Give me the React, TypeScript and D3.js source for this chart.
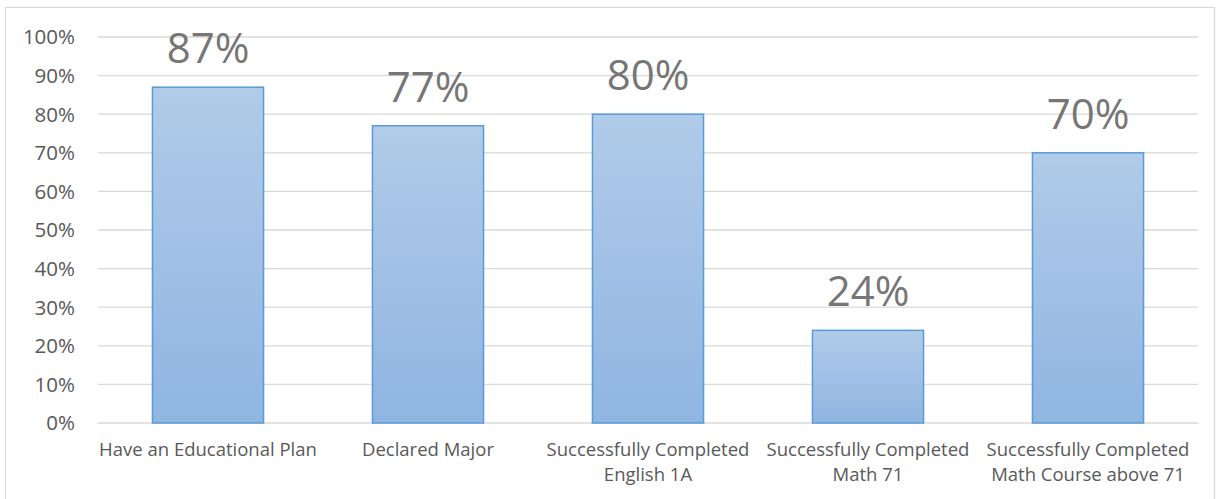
import * as d3 from "d3";

const categories = [
  ["Have an Educational Plan"],
  ["Declared Major"],
  ["Successfully Completed", "English 1A"],
  ["Successfully Completed", "Math 71"],
  ["Successfully Completed", "Math Course above 71"],
];
const values = [0.87, 0.77, 0.8, 0.24, 0.7];
const yTicks = [0, 0.1, 0.2, 0.3, 0.4, 0.5, 0.6, 0.7, 0.8, 0.9, 1.0];

const W = 1216;
const H = 499;
const plot = { left: 98, right: 1198, top: 37, bottom: 423 };
const font = "'Open Sans', sans-serif";

export default function App() {
  const x = d3
    .scaleBand<number>()
    .domain(d3.range(values.length))
    .range([plot.left, plot.right])
    .paddingInner(0.495)
    .paddingOuter(0.2475);
  const y = d3.scaleLinear().domain([0, 1]).range([plot.bottom, plot.top]);
  const pct = d3.format(".0%");

  return (
    <div style={{ position: "fixed", left: 0, top: 0 }}>
      <svg width={W} height={H} style={{ display: "block", background: "#fff" }}>
        <defs>
          <linearGradient id="barFill" x1="0" y1="0" x2="0" y2="1">
            <stop offset="0%" stopColor="#b1cbe9" />
            <stop offset="100%" stopColor="#8fb5e2" />
          </linearGradient>
        </defs>
        {/* chart area border */}
        <rect x={5.5} y={7.5} width={1209} height={500} fill="none" stroke="#d9d9d9" strokeWidth={1.2} />

        {/* gridlines + y labels */}
        {yTicks.map((t) => (
          <g key={t}>
            <line
              x1={plot.left}
              x2={plot.right}
              y1={y(t)}
              y2={y(t)}
              stroke="#d9d9d9"
              strokeWidth={1.3}
            />
            <text
              x={75}
              y={y(t)}
              dy="0.36em"
              textAnchor="end"
              fontFamily={font}
              fontSize={20.5}
              fill="#595959"
            >
              {pct(t)}
            </text>
          </g>
        ))}

        {/* bars */}
        {values.map((v, i) => (
          <rect
            key={i}
            x={x(i)!}
            y={y(v)}
            width={x.bandwidth()}
            height={y(0) - y(v)}
            fill="url(#barFill)"
            stroke="#5b9bd5"
            strokeWidth={1.5}
          />
        ))}

        {/* value labels */}
        {values.map((v, i) => (
          <text
            key={i}
            x={x(i)! + x.bandwidth() / 2}
            y={y(v) - 24}
            textAnchor="middle"
            fontFamily={font}
            fontSize={42}
            fill="#767676"
          >
            {pct(v)}
          </text>
        ))}

        {/* category labels */}
        {categories.map((lines, i) => (
          <text
            key={i}
            x={x(i)! + x.bandwidth() / 2}
            y={456}
            textAnchor="middle"
            fontFamily={font}
            fontSize={18.5}
            fill="#595959"
          >
            {lines.map((l, j) => (
              <tspan key={j} x={x(i)! + x.bandwidth() / 2} dy={j === 0 ? 0 : 25}>
                {l}
              </tspan>
            ))}
          </text>
        ))}
      </svg>
    </div>
  );
}
